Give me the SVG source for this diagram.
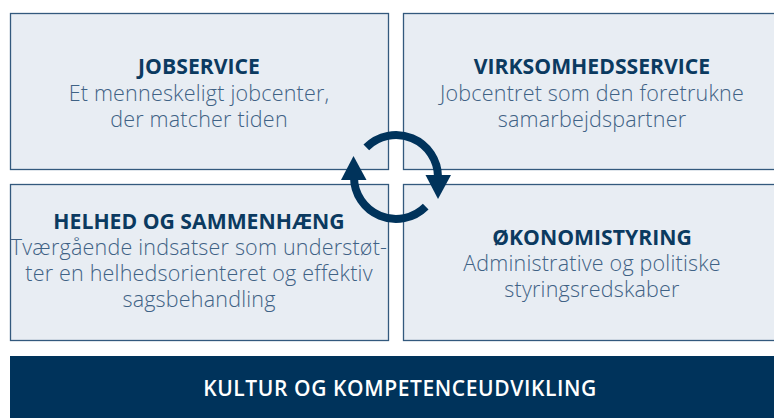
<svg xmlns="http://www.w3.org/2000/svg" width="774" height="418" viewBox="0 0 774 418">
<style>
.box{fill:#e8edf3;stroke:#33597d;stroke-width:1.3}
.t{font-family:"Open Sans","Liberation Sans",sans-serif;font-weight:700;font-size:21.2px;fill:#0b3a60;text-anchor:middle}
.b{font-family:"Open Sans","Liberation Sans",sans-serif;font-weight:300;font-size:21.5px;letter-spacing:0.2px;fill:#3f6285;text-anchor:middle}
.arc{fill:none;stroke:#00335b;stroke-width:8}
.head{fill:#00335b}
</style>
<rect width="774" height="418" fill="#ffffff"/>
<g id="jobservice">
<rect class="box" x="10.5" y="13.5" width="378" height="156"/>
<text class="t" x="199" y="74">JOBSERVICE</text>
<text class="b" x="199" y="101">Et menneskeligt jobcenter,</text>
<text class="b" x="199" y="127">der matcher tiden</text>
</g>
<g id="virksomhedsservice">
<rect class="box" x="403.5" y="13.5" width="380" height="156"/>
<text class="t" x="592" y="74">VIRKSOMHEDSSERVICE</text>
<text class="b" x="592" y="101">Jobcentret som den foretrukne</text>
<text class="b" x="592" y="127">samarbejdspartner</text>
</g>
<g id="helhed">
<rect class="box" x="10.5" y="184.5" width="378" height="156"/>
<text class="t" x="199" y="229">HELHED OG SAMMENHÆNG</text>
<text class="b" x="199" y="255">Tværgående indsatser som understøt-</text>
<text class="b" x="199" y="281">ter en helhedsorienteret og effektiv</text>
<text class="b" x="199" y="307">sagsbehandling</text>
</g>
<g id="okonomistyring">
<rect class="box" x="403.5" y="184.5" width="380" height="156"/>
<text class="t" x="592" y="245">ØKONOMISTYRING</text>
<text class="b" x="592" y="271">Administrative og politiske</text>
<text class="b" x="592" y="297">styringsredskaber</text>
</g>
<g id="kultur">
<rect x="10" y="356" width="774" height="70" fill="#00335b"/>
<text x="400" y="396" font-family="'Open Sans','Liberation Sans',sans-serif" font-weight="600" font-size="21" letter-spacing="0.6" fill="#ffffff" text-anchor="middle">KULTUR OG KOMPETENCEUDVIKLING</text>
</g>
<g id="connectors">
<path class="arc" d="M366.3,147.3 A42,42 0 0 1 438,177"/>
<polygon class="head" points="425.5,175 451,175 438,199"/>
<path class="arc" d="M425.7,206.7 A42,42 0 0 1 354,177"/>
<polygon class="head" points="341,180 366.5,180 353.5,156"/>
</g>
</svg>
